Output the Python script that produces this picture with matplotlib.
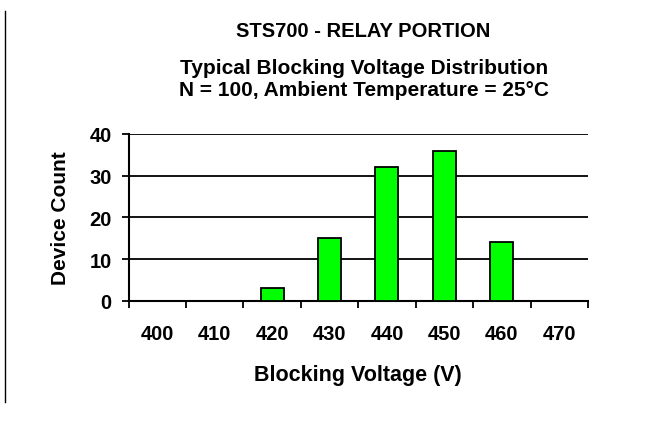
import matplotlib.pyplot as plt
import numpy as np

# Blocking voltage distribution (N = 100)
voltages = ["400", "410", "420", "430", "440", "450", "460", "470"]
counts = [0, 0, 3, 15, 32, 36, 14, 0]
y_ticks = [0, 10, 20, 30, 40]

plt.rcParams['font.family'] = ['Liberation Sans', 'DejaVu Sans']
plt.rcParams['font.weight'] = 'bold'

fig = plt.figure(figsize=(6.68, 4.35), dpi=100)
ax = fig.add_axes([0.1924, 0.3064, 0.6878, 0.3833])

x = np.arange(len(voltages))
ax.bar(x, counts, width=0.4, color='#00ff00', edgecolor='black', linewidth=1.3, zorder=3)

ax.set_xlim(-0.5, len(voltages) - 0.5)
ax.set_ylim(0, 40)

# gridlines, including the one at 40 that stands in for a top border
ax.set_yticks(y_ticks)
ax.set_yticklabels([str(v) for v in y_ticks], fontsize=14.5, fontweight='bold')
ax.yaxis.grid(True, color='black', linewidth=1.3, zorder=0)
ax.tick_params(axis='y', direction='out', length=5, width=1.3, pad=7)

# tick marks between categories, labels in the middle
ax.set_xticks(np.arange(len(voltages) + 1) - 0.5)
ax.set_xticklabels([])
ax.set_xticks(x, minor=True)
ax.set_xticklabels(voltages, minor=True, fontsize=14.5, fontweight='bold')
ax.tick_params(axis='x', which='major', direction='out', length=5, width=1.3)
ax.tick_params(axis='x', which='minor', length=0, pad=17)

for side in ['top', 'right']:
    ax.spines[side].set_visible(False)
for side in ['left', 'bottom']:
    ax.spines[side].set_linewidth(1.5)

ax.set_xlabel("Blocking Voltage (V)", fontsize=15.5, fontweight='bold', labelpad=15)
ax.set_ylabel("Device Count", fontsize=15, fontweight='bold', labelpad=14)

fig.text(0.543, 1 - 37 / 435, "STS700 - RELAY PORTION", ha='center', va='baseline',
         fontsize=14.5, fontweight='bold')
fig.text(0.545, 1 - 74 / 435, "Typical Blocking Voltage Distribution",
         ha='center', va='baseline', fontsize=15, fontweight='bold')
fig.text(0.545, 1 - 96 / 435, "N = 100, Ambient Temperature = 25°C",
         ha='center', va='baseline', fontsize=15, fontweight='bold')

# thin border line at the left edge of the page
fig.add_artist(plt.Line2D([0.0075, 0.0075], [1 - 403 / 435, 1 - 12 / 435],
                          transform=fig.transFigure, color='black', linewidth=1))

fig.savefig("out.png", dpi=100)
